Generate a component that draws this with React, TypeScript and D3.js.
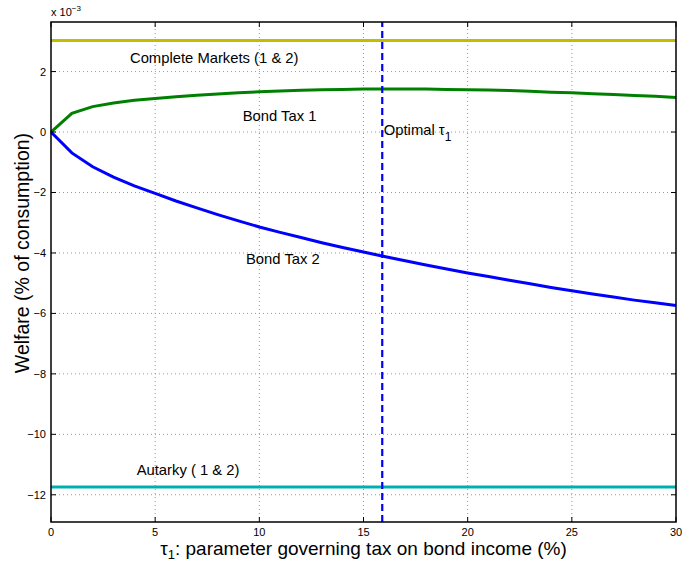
import React, { useEffect, useRef } from "react";
import * as d3 from "d3";

// tax rate tau_1 (%)
const tau = d3.range(0, 31);

// welfare, units of 1e-3
const bondTax1 = [
  0, 0.62, 0.84, 0.96, 1.05, 1.11, 1.17, 1.22, 1.26, 1.3, 1.33, 1.36, 1.38,
  1.4, 1.41, 1.42, 1.42, 1.42, 1.42, 1.41, 1.4, 1.39, 1.37, 1.35, 1.32, 1.3,
  1.27, 1.24, 1.21, 1.18, 1.14,
];
const bondTax2 = [
  0, -0.69, -1.15, -1.49, -1.78, -2.03, -2.28, -2.51, -2.73, -2.94, -3.14,
  -3.32, -3.49, -3.66, -3.82, -3.97, -4.12, -4.26, -4.4, -4.53, -4.66, -4.78,
  -4.9, -5.02, -5.14, -5.25, -5.36, -5.46, -5.56, -5.65, -5.74,
];
const completeMarkets = 3.03;
const autarky = -11.74;
const optimalTau = 15.9;

const xTicks = [0, 5, 10, 15, 20, 25, 30];
const yTicks = [-12, -10, -8, -6, -4, -2, 0, 2];

const labels = [
  { text: "Complete Markets (1 & 2)", x: 3.79, y: 2.28 },
  { text: "Bond Tax 1", x: 9.2, y: 0.37 },
  { text: "Bond Tax 2", x: 9.36, y: -4.35 },
  { text: "Autarky ( 1 & 2)", x: 4.11, y: -11.33 },
];

const App = () => {
  const svgRef = useRef<SVGSVGElement>(null);

  useEffect(() => {
    const width = 683;
    const height = 562;
    const margin = { top: 22, right: 7, bottom: 40, left: 51 };
    const font = "'Liberation Sans', Arial, sans-serif";

    const x = d3
      .scaleLinear()
      .domain([0, 30])
      .range([margin.left, width - margin.right]);
    const y = d3
      .scaleLinear()
      .domain([-12.9, 3.64])
      .range([height - margin.bottom, margin.top]);

    const svg = d3.select(svgRef.current);
    svg.selectAll("*").remove();
    svg.attr("font-family", font);

    const [x0, x1] = x.range();
    const [y0, y1] = y.range();

    // grid
    const grid = svg.append("g").attr("stroke", "#999").attr("stroke-width", 1)
      .attr("stroke-dasharray", "1,3");
    xTicks.slice(1, -1).forEach((t) => {
      grid.append("line").attr("x1", x(t)).attr("x2", x(t)).attr("y1", y0).attr("y2", y1);
    });
    yTicks.forEach((t) => {
      grid.append("line").attr("x1", x0).attr("x2", x1).attr("y1", y(t)).attr("y2", y(t));
    });

    // lines
    const line = d3
      .line<number>()
      .x((d, i) => x(tau[i]))
      .y((d) => y(d));

    svg.append("line")
      .attr("x1", x0).attr("x2", x1)
      .attr("y1", y(completeMarkets)).attr("y2", y(completeMarkets))
      .attr("stroke", "#bfbf00").attr("stroke-width", 3);
    svg.append("line")
      .attr("x1", x0).attr("x2", x1)
      .attr("y1", y(autarky)).attr("y2", y(autarky))
      .attr("stroke", "#00b0b0").attr("stroke-width", 3);

    svg.append("path").datum(bondTax1).attr("d", line)
      .attr("fill", "none").attr("stroke", "#008000").attr("stroke-width", 3);
    svg.append("path").datum(bondTax2).attr("d", line)
      .attr("fill", "none").attr("stroke", "#0000ff").attr("stroke-width", 3);

    svg.append("line")
      .attr("x1", x(optimalTau)).attr("x2", x(optimalTau))
      .attr("y1", y0).attr("y2", y1)
      .attr("stroke", "#0000ff").attr("stroke-width", 2.2)
      .attr("stroke-dasharray", "7,4");

    // axes box and ticks
    const tl = 5;
    const axes = svg.append("g").attr("stroke", "#000").attr("stroke-width", 1);
    xTicks.forEach((t) => {
      axes.append("line").attr("x1", x(t)).attr("x2", x(t)).attr("y1", y0).attr("y2", y0 - tl);
      axes.append("line").attr("x1", x(t)).attr("x2", x(t)).attr("y1", y1).attr("y2", y1 + tl);
    });
    yTicks.forEach((t) => {
      axes.append("line").attr("x1", x0).attr("x2", x0 + tl).attr("y1", y(t)).attr("y2", y(t));
      axes.append("line").attr("x1", x1).attr("x2", x1 - tl).attr("y1", y(t)).attr("y2", y(t));
    });
    svg.append("rect")
      .attr("x", x0).attr("y", y1)
      .attr("width", x1 - x0).attr("height", y0 - y1)
      .attr("fill", "none").attr("stroke", "#000").attr("stroke-width", 1.5);

    // tick labels
    svg.append("g").selectAll("text").data(xTicks).join("text")
      .attr("x", (d) => x(d)).attr("y", y0 + 14)
      .attr("text-anchor", "middle").attr("font-size", 11)
      .text((d) => d);
    svg.append("g").selectAll("text").data(yTicks).join("text")
      .attr("x", x0 - 5).attr("y", (d) => y(d) + 4)
      .attr("text-anchor", "end").attr("font-size", 11)
      .text((d) => (d < 0 ? "\u2212" + Math.abs(d) : d));

    // exponent
    const exp = svg.append("text").attr("x", x0).attr("y", 16).attr("font-size", 11);
    exp.append("tspan").text("x 10");
    exp.append("tspan").attr("dy", -5).attr("font-size", 8).text("\u22123");

    // annotations
    svg.append("g").selectAll("text").data(labels).join("text")
      .attr("x", (d) => x(d.x)).attr("y", (d) => y(d.y))
      .attr("font-size", 14.8)
      .text((d) => d.text);
    const opt = svg.append("text")
      .attr("x", x(optimalTau) + 1.5).attr("y", y(-0.09)).attr("font-size", 14.8);
    opt.append("tspan").text("Optimal \u03c4");
    opt.append("tspan").attr("dy", 6).attr("font-size", 12).text("1");

    // axis labels
    const xl = svg.append("text")
      .attr("x", (x0 + x1) / 2).attr("y", height - 7)
      .attr("text-anchor", "middle").attr("font-size", 19);
    xl.append("tspan").text("\u03c4");
    xl.append("tspan").attr("dy", 4).attr("font-size", 13).text("1");
    xl.append("tspan").attr("dy", -4).text(": parameter governing tax on bond income (%)");

    svg.append("text")
      .attr("transform", `translate(${29},${253}) rotate(-90)`)
      .attr("text-anchor", "middle").attr("font-size", 19.5)
      .text("Welfare (% of consumption)");
  }, []);

  return (
    <svg
      ref={svgRef}
      width={683}
      height={562}
      style={{ position: "absolute", left: 0, top: 0, background: "#fff" }}
    />
  );
};

export default App;
